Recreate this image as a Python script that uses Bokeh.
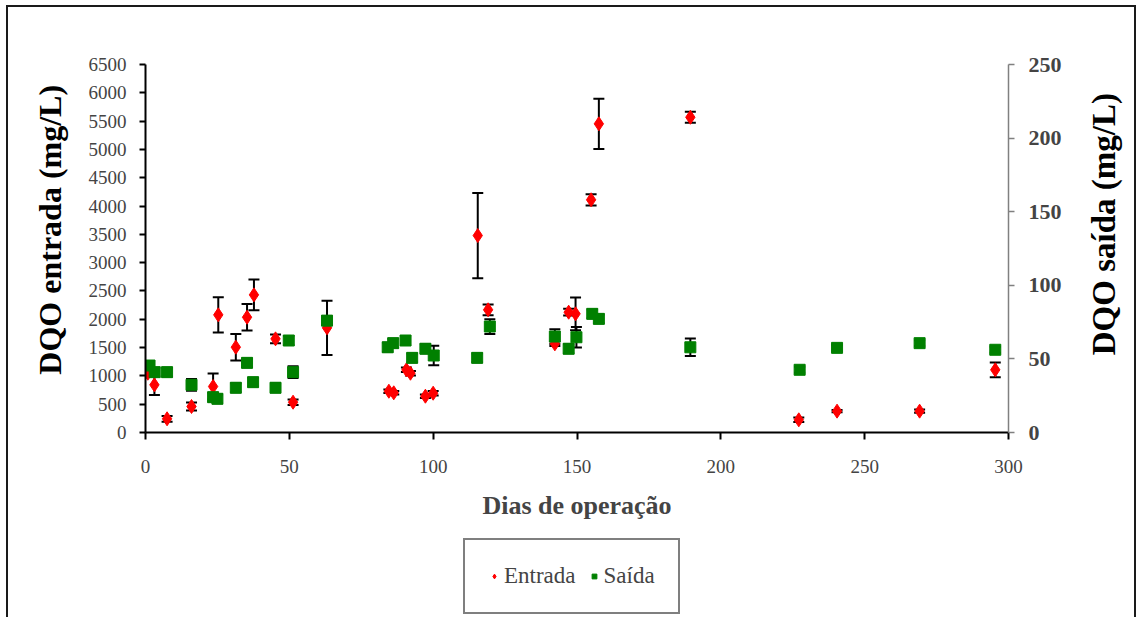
import math

from bokeh.core.properties import value
from bokeh.embed import file_html
from bokeh.layouts import column, row
from bokeh.models import (ColumnDataSource, Legend, LegendItem, LinearAxis,
                          Range1d, SingleIntervalTicker, TeeHead, Whisker)
from bokeh.plotting import figure
from bokeh.resources import INLINE

# COD at the reactor inlet (left axis, mg/L) by day of operation
days_in = [0.8, 3.1, 7.5, 16.0, 23.5, 25.3, 31.4, 35.3, 37.7, 45.2, 51.3, 63.1,
           84.6, 86.3, 90.7, 92.1, 97.3, 100.0, 115.5, 119.1, 142.3, 147.1,
           149.5, 154.9, 157.6, 189.4, 227.1, 240.4, 269.1, 295.4]
dqo_in = [1047, 842, 242, 459, 812, 2078, 1507, 2036, 2431, 1654, 535, 1849,
          729, 701, 1107, 1047, 641, 694, 3479, 2167, 1566, 2125,
          2096, 4110, 5452, 5568, 224, 377, 377, 1107]
err_in = [20, 180, 50, 70, 230, 310, 235, 235, 270, 78, 50, 480,
          30, 30, 40, 40, 30, 40, 753, 95, 40, 60,
          290, 100, 444, 97, 40, 20, 30, 130]

# COD at the reactor outlet (right axis, mg/L)
days_out = [1.4, 3.2, 7.5, 16.0, 23.5, 25.0, 31.4, 35.3, 37.4, 45.2, 49.8, 51.3,
            63.1, 84.2, 86.1, 90.4, 92.7, 97.3, 100.2, 115.3, 119.7, 142.3,
            147.1, 149.8, 155.3, 157.6, 189.4, 227.4, 240.4, 269.1, 295.4]
dqo_out = [45.5, 41, 41, 32.4, 24, 22.9, 30.4, 47.3, 34.2, 30.4, 62.5, 41,
           76, 57.9, 60.7, 62.5, 50.7, 56.9, 52.3, 50.7, 72, 65.2,
           56.9, 64.7, 80.6, 77.2, 57.9, 42.6, 57.5, 60.7, 56.2]
err_out = [3, 3, 3, 4, 3, 3, 3, 3, 3, 3, 3, 4,
           3, 3, 3, 3, 3, 3, 6.6, 3, 5, 5,
           3, 7, 3, 3, 6, 2, 2, 2, 2]

x_label = "Dias de operação"
y_left_label = "DQO entrada (mg/L)"
y_right_label = "DQO saída (mg/L)"
names = ["Entrada", "Saída"]

FONT = "Liberation Serif"
INK = "#1a1a1a"
RED = "#FF0000"
GREEN = "#008000"

src_in = ColumnDataSource(dict(
    x=days_in, y=dqo_in,
    lo=[v - e for v, e in zip(dqo_in, err_in)],
    hi=[v + e for v, e in zip(dqo_in, err_in)]))
src_out = ColumnDataSource(dict(
    x=days_out, y=dqo_out,
    lo=[v - e for v, e in zip(dqo_out, err_out)],
    hi=[v + e for v, e in zip(dqo_out, err_out)]))

TOP_H = 530      # chart row height; the legend strip fills the rest
LEFT_W = 75      # strip holding the left axis title
RIGHT_W = 60     # strip holding the right axis title
MAIN_W = 1140 - LEFT_W - RIGHT_W

p = figure(width=MAIN_W, height=TOP_H, output_backend="svg",
           toolbar_location=None,
           x_range=Range1d(0, 300), y_range=Range1d(0, 6500),
           min_border_left=145 - LEFT_W, min_border_right=1140 - RIGHT_W - 1008,
           min_border_top=64, min_border_bottom=TOP_H - 432,
           background_fill_color="white", border_fill_alpha=0)
p.extra_y_ranges = {"right": Range1d(0, 250)}
p.outline_line_color = None
p.xgrid.visible = False
p.ygrid.visible = False

# error bars
for src, rng in ((src_in, "default"), (src_out, "right")):
    w = Whisker(source=src, base="x", upper="hi", lower="lo",
                line_color="black", line_width=2,
                upper_head=TeeHead(size=11, line_color="black", line_width=2),
                lower_head=TeeHead(size=11, line_color="black", line_width=2))
    if rng != "default":
        w.y_range_name = rng
    p.add_layout(w)

p.scatter("x", "y", source=src_in, marker="diamond", size=14,
          fill_color=RED, line_color=RED)
p.scatter("x", "y", source=src_out, marker="square", size=11,
          fill_color=GREEN, line_color=GREEN, y_range_name="right")

# bottom axis
xa = p.xaxis[0]
xa.ticker = SingleIntervalTicker(interval=50, num_minor_ticks=0)
xa.axis_label = x_label
xa.axis_label_text_font = FONT
xa.axis_label_text_font_style = "bold"
xa.axis_label_text_font_size = "26px"
xa.axis_label_standoff = 15
xa.major_label_text_font = FONT
xa.major_label_text_font_size = "19px"
xa.major_label_standoff = 20
xa.axis_line_width = 2
xa.major_tick_line_width = 2
xa.major_tick_in = 0
xa.major_tick_out = 7
xa.minor_tick_line_color = None

# left axis (title drawn in the left strip)
ya = p.yaxis[0]
ya.ticker = SingleIntervalTicker(interval=500, num_minor_ticks=0)
ya.major_label_text_font = FONT
ya.major_label_text_font_size = "19px"
ya.major_label_standoff = 13
ya.axis_line_width = 2
ya.major_tick_line_width = 2
ya.major_tick_in = 0
ya.major_tick_out = 6
ya.minor_tick_line_color = None

# right axis (title drawn in the right strip)
yr = LinearAxis(y_range_name="right",
                ticker=SingleIntervalTicker(interval=50, num_minor_ticks=0))
yr.major_label_text_font = FONT
yr.major_label_text_font_style = "bold"
yr.major_label_text_font_size = "22px"
yr.major_label_standoff = 14
yr.axis_line_color = "#808080"
yr.axis_line_width = 1.5
yr.major_tick_line_color = "#808080"
yr.major_tick_line_width = 1.5
yr.major_tick_in = 0
yr.major_tick_out = 6
yr.minor_tick_line_color = None
p.add_layout(yr, "right")


def title_strip(width, text, x, y, size):
    """Narrow transparent figure holding one vertical title (bottom to top)."""
    f = figure(width=width, height=TOP_H, output_backend="svg",
               toolbar_location=None,
               x_range=Range1d(0, width), y_range=Range1d(TOP_H, 0),
               min_border=0, background_fill_alpha=0, border_fill_alpha=0)
    f.outline_line_color = None
    f.axis.visible = False
    f.grid.visible = False
    f.text(x=[x], y=[y], text=[text], angle=math.pi / 2,
           text_align="center", text_baseline="middle",
           text_font=value(FONT), text_font_style="bold",
           text_font_size=size, text_color="black")
    return f


left_strip = title_strip(LEFT_W, y_left_label, 49, 238, "32px")
right_strip = title_strip(RIGHT_W, y_right_label, 23, 230, "33px")

# legend strip under the chart; its key glyphs reuse the first data point,
# which lies outside this strip's ranges
LEG_H = 617 - TOP_H
lf = figure(width=1140, height=LEG_H, output_backend="svg", toolbar_location=None,
            x_range=Range1d(0, 1140), y_range=Range1d(0, LEG_H),
            min_border=0, background_fill_alpha=0, border_fill_alpha=0)
lf.outline_line_color = None
lf.axis.visible = False
lf.grid.visible = False
k_in = lf.scatter(x=days_in[:1], y=dqo_in[:1], marker="diamond", size=14,
                  fill_color=RED, line_color=RED)
k_out = lf.scatter(x=days_out[:1], y=[v * 100 for v in dqo_out[:1]],
                   marker="square", size=11,
                   fill_color=GREEN, line_color=GREEN)
legend = Legend(items=[LegendItem(label=names[0], renderers=[k_in]),
                       LegendItem(label=names[1], renderers=[k_out])],
                orientation="horizontal", location=(463, 3),
                border_line_color="black", border_line_width=2,
                background_fill_color="white", background_fill_alpha=1,
                label_text_font=FONT, label_text_font_size="23px",
                glyph_width=12, glyph_height=14, label_standoff=4,
                spacing=12, padding=23, margin=0)
lf.add_layout(legend, "center")

# chart area border around all pieces
line = f"linear-gradient({INK},{INK})"
layout = column(row(left_strip, p, right_strip), lf, styles={
    "background": (f"{line} 6px 5px / 2px 640px no-repeat, "
                   f"{line} 6px 5px / 1130px 2px no-repeat, "
                   f"{line} 1134px 5px / 2px 640px no-repeat, #ffffff")})

open("out.html", "w").write(file_html(layout, INLINE))
